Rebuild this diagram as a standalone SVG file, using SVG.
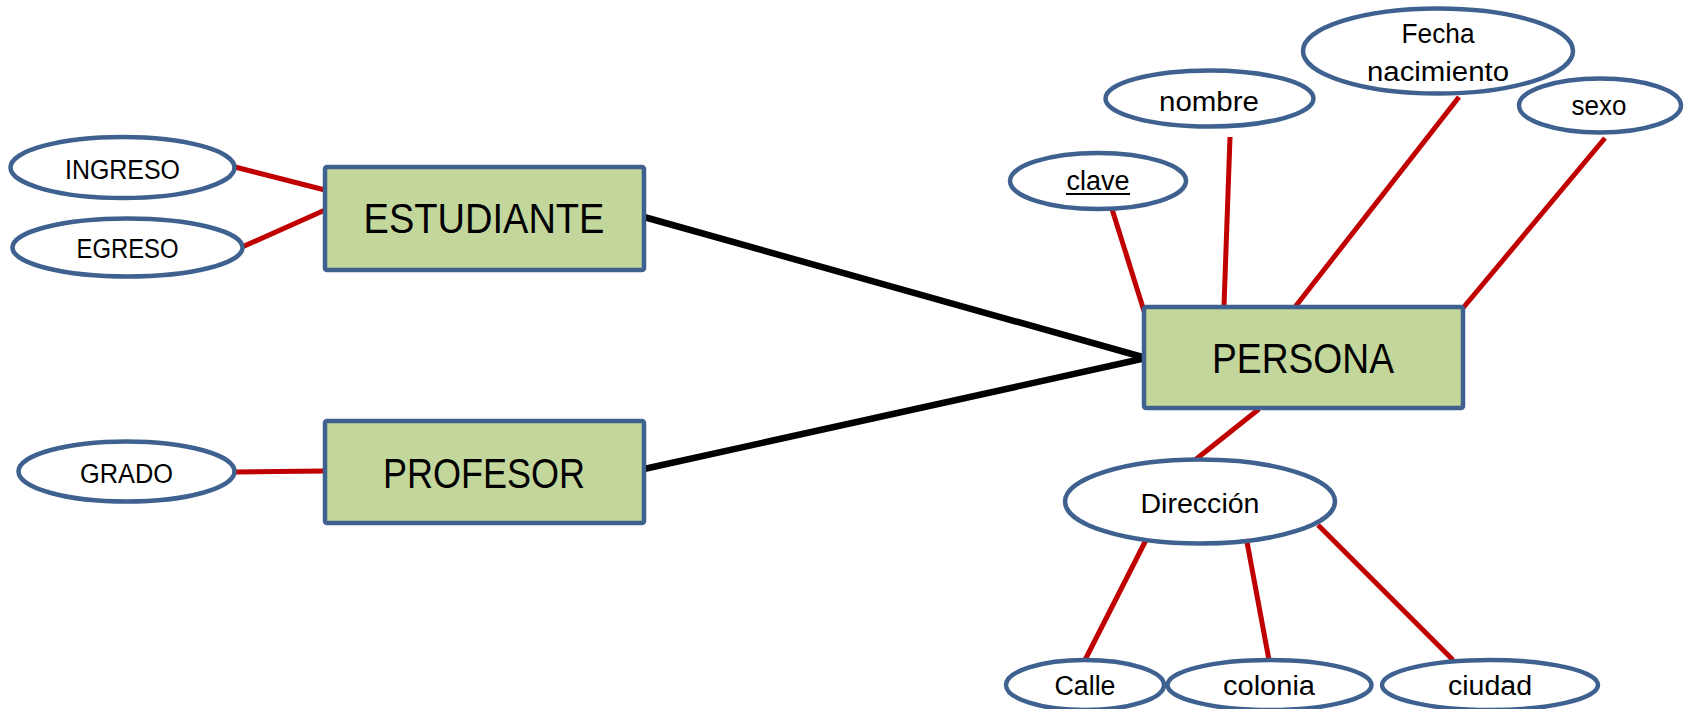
<svg xmlns="http://www.w3.org/2000/svg" width="1687" height="709" viewBox="0 0 1687 709">
  <style>
    .bg { fill: #ffffff; }
    .entity rect { fill: #c3d69b; stroke: #3e6190; stroke-width: 4.5; }
    .attr ellipse { fill: #ffffff; stroke: #3e6190; stroke-width: 4.5; }
    text { font-family: "Liberation Sans", Arial, sans-serif; fill: #000000; text-anchor: middle; }
    .big { font-size: 43px; }
    .small { font-size: 27px; }
    .attr-link { stroke: #c00000; stroke-width: 5; fill: none; }
    .rel-link { stroke: #000000; stroke-width: 6.5; fill: none; }
  </style>
  <rect class="bg" x="0" y="0" width="1687" height="709"/>

  <!-- connectors -->
  <g id="connectors">
    <line class="rel-link" x1="644" y1="217" x2="1146" y2="358"/>
    <line class="rel-link" x1="644" y1="469" x2="1146" y2="358"/>
    <line class="attr-link" x1="235" y1="167" x2="325" y2="190"/>
    <line class="attr-link" x1="242" y1="247" x2="325" y2="210"/>
    <line class="attr-link" x1="235" y1="472" x2="325" y2="471"/>
    <line class="attr-link" x1="1112" y1="209" x2="1144" y2="311"/>
    <line class="attr-link" x1="1230" y1="137" x2="1224" y2="306"/>
    <line class="attr-link" x1="1459" y1="97" x2="1295" y2="307"/>
    <line class="attr-link" x1="1605" y1="138" x2="1463" y2="308"/>
    <line class="attr-link" x1="1259" y1="409" x2="1195" y2="460"/>
    <line class="attr-link" x1="1147" y1="538" x2="1085" y2="660"/>
    <line class="attr-link" x1="1247" y1="542" x2="1269" y2="660"/>
    <line class="attr-link" x1="1318" y1="525" x2="1453" y2="660"/>
  </g>

  <!-- entities -->
  <g id="estudiante" class="entity">
    <rect x="325" y="167" width="319" height="103" rx="2"/>
    <text class="big" x="484" y="233" textLength="241" lengthAdjust="spacingAndGlyphs">ESTUDIANTE</text>
  </g>
  <g id="profesor" class="entity">
    <rect x="325" y="421" width="319" height="102" rx="2"/>
    <text class="big" x="484" y="488" textLength="202" lengthAdjust="spacingAndGlyphs">PROFESOR</text>
  </g>
  <g id="persona" class="entity">
    <rect x="1144" y="307" width="319" height="101" rx="2"/>
    <text class="big" x="1303" y="373" textLength="182" lengthAdjust="spacingAndGlyphs">PERSONA</text>
  </g>

  <!-- attributes -->
  <g id="ingreso" class="attr">
    <ellipse cx="122.5" cy="167.5" rx="112" ry="30.5"/>
    <text class="small" x="122.5" y="179" textLength="115" lengthAdjust="spacingAndGlyphs">INGRESO</text>
  </g>
  <g id="egreso" class="attr">
    <ellipse cx="127.5" cy="247.5" rx="115" ry="29"/>
    <text class="small" x="127.5" y="258" textLength="102" lengthAdjust="spacingAndGlyphs">EGRESO</text>
  </g>
  <g id="grado" class="attr">
    <ellipse cx="126.5" cy="471.5" rx="108" ry="30"/>
    <text class="small" x="126.5" y="483" textLength="93" lengthAdjust="spacingAndGlyphs">GRADO</text>
  </g>
  <g id="clave" class="attr">
    <ellipse cx="1098" cy="181" rx="88" ry="28"/>
    <text class="small" x="1098" y="190" textLength="63" lengthAdjust="spacingAndGlyphs">clave</text>
    <line x1="1066" y1="194" x2="1130" y2="194" stroke="#000000" stroke-width="2"/>
  </g>
  <g id="nombre" class="attr">
    <ellipse cx="1209.5" cy="98.5" rx="104" ry="28"/>
    <text class="small" x="1209" y="111" textLength="100" lengthAdjust="spacingAndGlyphs">nombre</text>
  </g>
  <g id="fecha-nacimiento" class="attr">
    <ellipse cx="1438" cy="51" rx="135" ry="42.5"/>
    <text class="small" x="1438" y="43" textLength="73" lengthAdjust="spacingAndGlyphs">Fecha</text>
    <text class="small" x="1438" y="81" textLength="142" lengthAdjust="spacingAndGlyphs">nacimiento</text>
  </g>
  <g id="sexo" class="attr">
    <ellipse cx="1600" cy="105.5" rx="81" ry="27"/>
    <text class="small" x="1599" y="115" textLength="55" lengthAdjust="spacingAndGlyphs">sexo</text>
  </g>
  <g id="direccion" class="attr">
    <ellipse cx="1200" cy="501.5" rx="135" ry="42"/>
    <text class="small" x="1200" y="512.5" textLength="119" lengthAdjust="spacingAndGlyphs">Dirección</text>
  </g>
  <g id="calle" class="attr">
    <ellipse cx="1085" cy="685" rx="79" ry="25"/>
    <text class="small" x="1085" y="695" textLength="61" lengthAdjust="spacingAndGlyphs">Calle</text>
  </g>
  <g id="colonia" class="attr">
    <ellipse cx="1269.5" cy="685" rx="102" ry="25"/>
    <text class="small" x="1269" y="695" textLength="92" lengthAdjust="spacingAndGlyphs">colonia</text>
  </g>
  <g id="ciudad" class="attr">
    <ellipse cx="1490" cy="685" rx="108" ry="25"/>
    <text class="small" x="1490" y="695" textLength="84" lengthAdjust="spacingAndGlyphs">ciudad</text>
  </g>
</svg>
